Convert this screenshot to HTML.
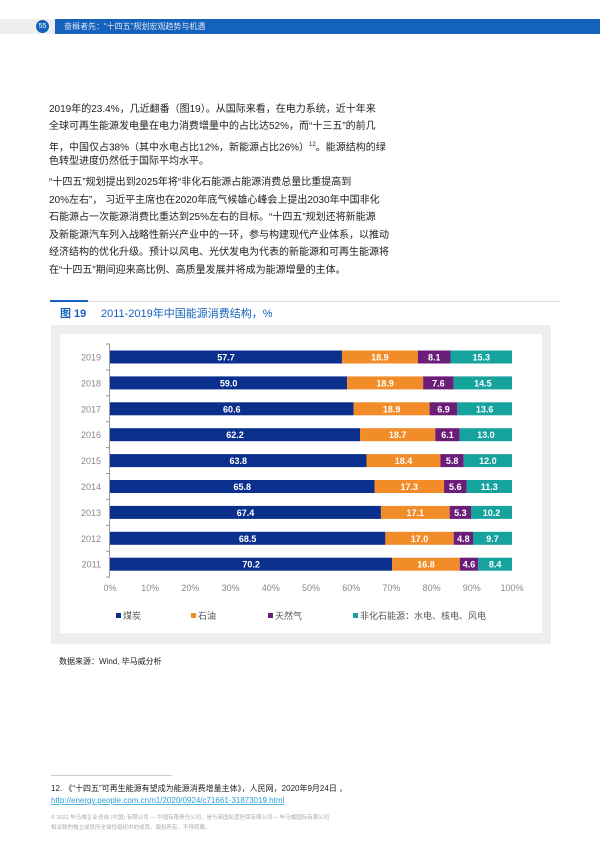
<!DOCTYPE html>
<html><head><meta charset="utf-8"><style>
body{margin:0;width:600px;height:841px;position:relative;background:#fff;font-family:"Liberation Sans","Noto Sans CJK SC",sans-serif;overflow:hidden}
.l{position:absolute;left:49px;font-size:10px;color:#222;white-space:nowrap;line-height:14px}
</style></head><body>
<div style="position:absolute;left:0;top:19px;width:55px;height:15px;background:#eee"></div>
<div style="position:absolute;left:55px;top:19px;width:545px;height:15px;background:#1462bb"></div>
<div style="position:absolute;left:36px;top:20px;width:13px;height:13px;border-radius:50%;background:#1462bb;color:#fff;font-size:7px;text-align:center;line-height:13px">55</div>
<div style="position:absolute;left:64px;top:19px;line-height:15px;font-size:8px;color:#dde8f7">奋楫者先：“十四五”规划宏观趋势与机遇</div>
<div class="l" style="top:103px">2019年的23.4%，几近翻番（图19）。从国际来看，在电力系统，近十年来</div>
<div class="l" style="top:120px">全球可再生能源发电量在电力消费增量中的占比达52%，而“十三五”的前几</div>
<div class="l" style="top:137.5px">年，中国仅占38%（其中水电占比12%，新能源占比26%）<sup style="font-size:6px">12</sup>。能源结构的绿</div>
<div class="l" style="top:155px">色转型进度仍然低于国际平均水平。</div>
<div class="l" style="top:176px">“十四五”规划提出到2025年将“非化石能源占能源消费总量比重提高到</div>
<div class="l" style="top:193.5px">20%左右”， 习近平主席也在2020年底气候雄心峰会上提出2030年中国非化</div>
<div class="l" style="top:211px">石能源占一次能源消费比重达到25%左右的目标。“十四五”规划还将新能源</div>
<div class="l" style="top:228.5px">及新能源汽车列入战略性新兴产业中的一环，参与构建现代产业体系，以推动</div>
<div class="l" style="top:246px">经济结构的优化升级。预计以风电、光伏发电为代表的新能源和可再生能源将</div>
<div class="l" style="top:263.5px">在“十四五”期间迎来高比例、高质量发展并将成为能源增量的主体。</div>
<svg style="position:absolute;left:0;top:0" width="600" height="841" font-family="Liberation Sans,Noto Sans CJK SC,sans-serif">
<line x1="50" y1="301" x2="88" y2="301" stroke="#1462bb" stroke-width="2"/>
<line x1="88" y1="301.5" x2="560" y2="301.5" stroke="#ddd" stroke-width="1"/>
<text x="60" y="317" font-size="11" font-weight="bold" fill="#1462bb">图 19</text>
<text x="101" y="317" font-size="11" fill="#1462bb">2011-2019年中国能源消费结构，%</text>
<rect x="51" y="325" width="500" height="319" fill="#eeeef0"/>
<rect x="60" y="334" width="482" height="299" fill="#fff"/>
<g id="bars"></g>
<g font-size="9" fill="#888" text-anchor="middle">
<text x="110" y="591">0%</text><text x="150.2" y="591">10%</text><text x="190.4" y="591">20%</text><text x="230.6" y="591">30%</text><text x="270.8" y="591">40%</text><text x="311" y="591">50%</text><text x="351.2" y="591">60%</text><text x="391.4" y="591">70%</text><text x="431.6" y="591">80%</text><text x="471.8" y="591">90%</text><text x="512" y="591">100%</text>
</g>
<g font-size="9" fill="#555">
<rect x="116" y="613" width="5" height="5" fill="#0b2f8c"/><text x="123" y="619">煤炭</text>
<rect x="191" y="613" width="5" height="5" fill="#f28c28"/><text x="198" y="619">石油</text>
<rect x="268" y="613" width="5" height="5" fill="#6a1e7a"/><text x="275" y="619">天然气</text>
<rect x="353" y="613" width="5" height="5" fill="#16a39e"/><text x="360" y="619">非化石能源：水电、核电、风电</text>
</g>
<text x="59" y="664" font-size="8" fill="#222">数据来源：Wind, 毕马威分析</text>
<line x1="51" y1="775.5" x2="172" y2="775.5" stroke="#ccc"/>
<text x="51" y="791" font-size="8" fill="#222">12. 《“十四五”可再生能源有望成为能源消费增量主体》，人民网，2020年9月24日 ，</text>
<text x="51" y="803" font-size="8" fill="#2a9fd6" text-decoration="underline">http://energy.people.com.cn/n1/2020/0924/c71661-31873019.html</text>
<text x="51" y="819" font-size="5.5" fill="#aaa">© 2021 毕马威企业咨询 (中国) 有限公司 — 中国有限责任公司，是与英国私营担保有限公司— 毕马威国际有限公司</text>
<text x="51" y="829" font-size="5.5" fill="#aaa">相关联的独立成员所全球性组织中的成员。版权所有，不得转载。</text>
</svg>
<script>
var d=[[2019,57.7,18.9,8.1,15.3],[2018,59.0,18.9,7.6,14.5],[2017,60.6,18.9,6.9,13.6],[2016,62.2,18.7,6.1,13.0],[2015,63.8,18.4,5.8,12.0],[2014,65.8,17.3,5.6,11.3],[2013,67.4,17.1,5.3,10.2],[2012,68.5,17.0,4.8,9.7],[2011,70.2,16.8,4.6,8.4]];
var c=["#0b2f8c","#f28c28","#6a1e7a","#16a39e"];var s="";
s+='<line x1="109.5" y1="344" x2="109.5" y2="577" stroke="#999"/>';
for(var i=0;i<=9;i++){var ty=344+i*25.9;s+='<line x1="106" y1="'+ty+'" x2="110" y2="'+ty+'" stroke="#999"/>';}
d.forEach(function(r,i){var y=357+i*25.9;var x=110;s+='<text x="101" y="'+(y+3.5)+'" font-size="9" fill="#888" text-anchor="end">'+r[0]+'</text>';
var tot=r[1]+r[2]+r[3]+r[4];
for(var k=0;k<4;k++){var w=r[k+1]/tot*402;s+='<rect x="'+x+'" y="'+(y-6.5)+'" width="'+w+'" height="13" fill="'+c[k]+'"/>';
s+='<text x="'+(x+w/2)+'" y="'+(y+3.5)+'" font-size="9" font-weight="bold" fill="#fff" text-anchor="middle">'+r[k+1].toFixed(1)+'</text>';x+=w;}});
document.getElementById("bars").innerHTML=s;
</script>
</body></html>
